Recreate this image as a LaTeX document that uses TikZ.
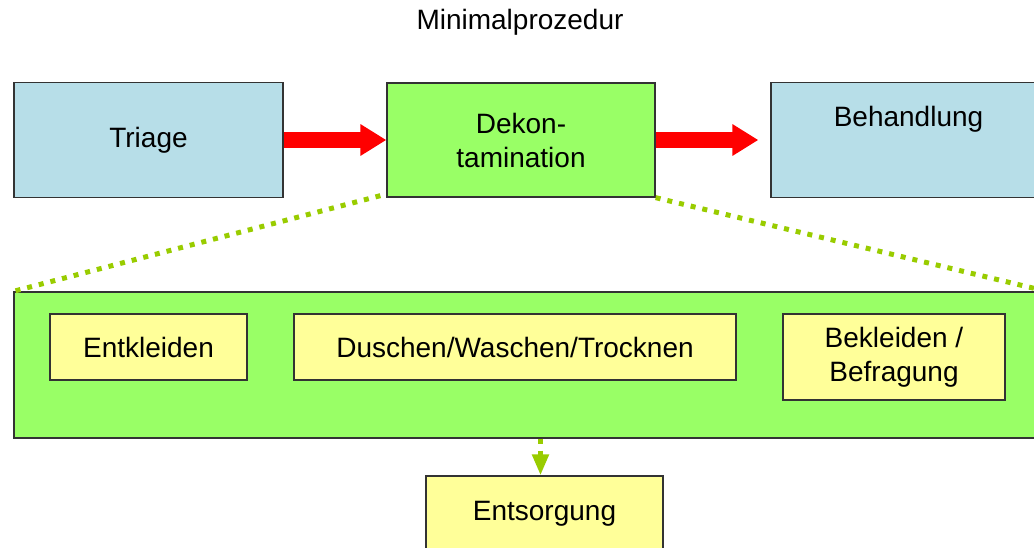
\documentclass[tikz,border=0pt]{standalone}
\usepackage{fontspec}
\setmainfont{Liberation Sans}
\usetikzlibrary{positioning,arrows.meta}
\definecolor{BoxBlue}{RGB}{183,222,232}
\definecolor{BoxGreen}{RGB}{153,255,102}
\definecolor{BoxYellow}{RGB}{255,255,153}
\definecolor{DotGreen}{RGB}{153,204,0}
\definecolor{EdgeGray}{RGB}{51,51,51}

\begin{document}
\begin{tikzpicture}[
    x=1pt,
    y=-1pt,
    font=\fontsize{28}{34}\selectfont,
    box/.style={
        draw=EdgeGray,
        line width=1.3pt,
        align=center,
        inner sep=0pt
    },
    stage/.style={
        box,
        fill=BoxBlue,
        minimum height=115pt
    },
    decon/.style={
        box,
        fill=BoxGreen
    },
    task/.style={
        box,
        fill=BoxYellow,
        minimum height=66pt
    },
    flow/.style={
        -{Triangle[length=26pt,width=30pt]},
        line width=16pt,
        draw=red
    },
    zoomline/.style={
        line width=5pt,
        draw=DotGreen,
        dash pattern=on 5pt off 7pt
    }
]

\useasboundingbox (0,0) rectangle (1034,547);
\clip (0,0) rectangle (1034,547);

\node (title) at (520,22) {Minimalprozedur};

\node[stage, minimum width=269pt] (triage) at (148.5,140) {Triage};
\node[decon, minimum width=268pt, minimum height=114pt] (dekon) at (521,140) {Dekon-\\tamination};
\node[stage, minimum width=275pt,
      label={[anchor=north,inner sep=0pt,yshift=-24pt]north:Behandlung}] (behandlung) at (908.5,140) {};

\draw[flow] (triage.east) -- (dekon.west);
\draw[flow, shorten >=12pt] (dekon.east) -- (behandlung.west);

% zoom into the decontamination step
\node[decon, minimum width=1032pt, minimum height=146pt] (zone) at (530,365) {};
\node[task, minimum width=197pt] (entkleiden) at (148.5,347) {Entkleiden};
\node[task, minimum width=442pt] (duschen) at (515,347) {Duschen/Waschen/Trocknen};
\node[task, minimum width=222pt, minimum height=86pt] (bekleiden) at (894,357) {Bekleiden /\\Befragung};

\draw[zoomline] ([xshift=-6pt,yshift=2pt]dekon.south west) -- (zone.north west);
\draw[zoomline] (dekon.south east) -- (zone.north east);

\node[task, minimum width=237pt, minimum height=76pt] (entsorgung) at (544.5,514) {Entsorgung};

\draw[zoomline, -{Triangle[length=21pt,width=16pt]}]
    ([xshift=-4pt]entsorgung.north |- zone.south) -- ([xshift=-4pt]entsorgung.north);

\end{tikzpicture}
\end{document}
